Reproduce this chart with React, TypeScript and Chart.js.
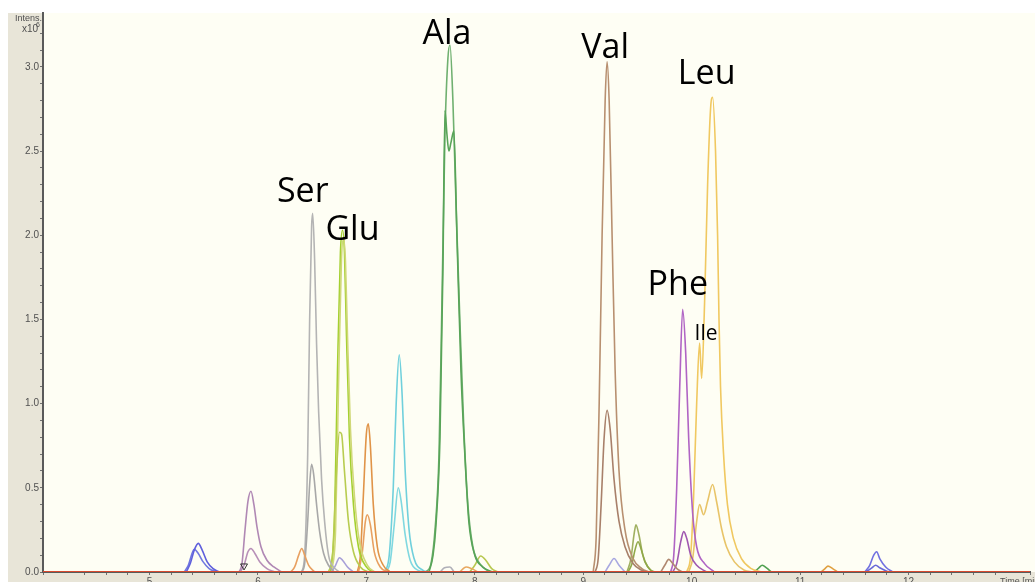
import React, { useEffect, useRef } from "react";
import { Chart, registerables } from "chart.js";
Chart.register(...registerables);

type P = [number, number];

// ---- data: [time (min), intensity (x10^6)] ----
const blueTall: P[] = [[5.339,0],[5.376,0.05],[5.413,0.13],[5.45,0.17],[5.486,0.13],[5.532,0.06],[5.587,0.02],[5.642,0]];
const blueShort: P[] = [[5.321,0],[5.358,0.04],[5.413,0.135],[5.45,0.11],[5.495,0.06],[5.55,0.02],[5.624,0]];
const mauveTall: P[] = [[5.826,0],[5.853,0.05],[5.881,0.25],[5.908,0.42],[5.936,0.48],[5.963,0.4],[5.991,0.27],[6.028,0.15],[6.083,0.07],[6.147,0.03],[6.22,0]];
const mauveShort: P[] = [[5.835,0],[5.872,0.04],[5.908,0.12],[5.936,0.14],[5.972,0.11],[6.018,0.06],[6.083,0.02],[6.156,0]];
const orangeSmall: P[] = [[6.303,0],[6.339,0.03],[6.376,0.1],[6.404,0.14],[6.431,0.1],[6.468,0.04],[6.523,0]];
const serTall: P[] = [[6.404,0],[6.431,0.1],[6.459,0.7],[6.477,1.5],[6.495,2.05],[6.505,2.13],[6.523,1.85],[6.541,1.35],[6.56,0.95],[6.587,0.55],[6.615,0.3],[6.651,0.1],[6.697,0.03],[6.752,0]];
const serShort: P[] = [[6.404,0],[6.431,0.05],[6.459,0.3],[6.477,0.52],[6.495,0.64],[6.514,0.58],[6.541,0.4],[6.569,0.24],[6.606,0.11],[6.651,0.04],[6.706,0]];
const lavSmall: P[] = [[6.679,0],[6.716,0.04],[6.752,0.085],[6.78,0.07],[6.826,0.03],[6.881,0]];
const gluTall: P[] = [[6.67,0],[6.706,0.3],[6.734,1.2],[6.761,1.9],[6.78,2.03],[6.798,1.9],[6.817,1.4],[6.844,0.8],[6.881,0.4],[6.927,0.15],[7.0,0.03],[7.064,0]];
const gluTall2: P[] = [[6.68,0],[6.716,0.25],[6.743,1.1],[6.77,1.85],[6.789,1.98],[6.807,1.85],[6.826,1.4],[6.853,0.85],[6.89,0.45],[6.936,0.18],[7.01,0.04],[7.08,0]];
const gluShort: P[] = [[6.651,0],[6.688,0.1],[6.725,0.6],[6.752,0.83],[6.771,0.82],[6.798,0.6],[6.835,0.3],[6.881,0.12],[6.945,0.03],[7.018,0]];
const orangeTall: P[] = [[6.917,0],[6.945,0.1],[6.972,0.45],[7.0,0.82],[7.018,0.88],[7.037,0.75],[7.064,0.4],[7.101,0.15],[7.156,0.04],[7.22,0]];
const orangeShort: P[] = [[6.927,0],[6.963,0.12],[6.991,0.3],[7.009,0.34],[7.037,0.28],[7.073,0.12],[7.128,0.03],[7.202,0]];
const cyanTall: P[] = [[7.174,0],[7.211,0.1],[7.248,0.5],[7.275,1.0],[7.303,1.29],[7.33,1.05],[7.358,0.6],[7.394,0.25],[7.44,0.08],[7.523,0.01],[7.569,0]];
const cyanShort: P[] = [[7.183,0],[7.22,0.06],[7.257,0.28],[7.294,0.5],[7.321,0.42],[7.358,0.22],[7.404,0.07],[7.477,0.01],[7.55,0]];
const grayBump: P[] = [[7.68,0],[7.72,0.025],[7.77,0.03],[7.81,0]];
const alaTall: P[] = [[7.55,0],[7.596,0.05],[7.633,0.25],[7.67,0.7],[7.697,1.6],[7.725,2.6],[7.752,3.05],[7.771,3.13],[7.798,2.8],[7.826,2.2],[7.862,1.5],[7.899,0.85],[7.936,0.4],[7.982,0.15],[8.046,0.05],[8.138,0]];
const alaSplit: P[] = [[7.578,0],[7.615,0.1],[7.642,0.28],[7.679,0.8],[7.706,1.8],[7.725,2.74],[7.743,2.6],[7.761,2.5],[7.78,2.55],[7.807,2.62],[7.835,2.0],[7.872,1.2],[7.908,0.7],[7.945,0.3],[8.0,0.1],[8.073,0.03],[8.165,0]];
const orangeBump: P[] = [[7.86,0],[7.92,0.03],[7.97,0.02],[8.03,0]];
const yellowGreenSmall: P[] = [[7.954,0],[8.0,0.04],[8.055,0.095],[8.101,0.07],[8.156,0.02],[8.211,0]];
const valTall: P[] = [[9.092,0],[9.119,0.2],[9.147,1.0],[9.174,2.0],[9.202,2.8],[9.22,3.03],[9.239,2.8],[9.266,2.0],[9.294,1.2],[9.33,0.6],[9.385,0.25],[9.459,0.08],[9.541,0.02],[9.606,0]];
const valShort: P[] = [[9.11,0],[9.138,0.08],[9.165,0.4],[9.193,0.8],[9.22,0.96],[9.248,0.85],[9.284,0.55],[9.33,0.3],[9.385,0.15],[9.459,0.05],[9.541,0.01],[9.587,0]];
const lavSmall2: P[] = [[9.202,0],[9.239,0.04],[9.284,0.08],[9.33,0.04],[9.385,0]];
const oliveTall: P[] = [[9.404,0],[9.44,0.08],[9.468,0.22],[9.486,0.28],[9.514,0.22],[9.55,0.1],[9.596,0.03],[9.642,0]];
const oliveShort: P[] = [[9.413,0],[9.45,0.05],[9.477,0.13],[9.505,0.18],[9.532,0.14],[9.569,0.06],[9.624,0.01],[9.661,0]];
const brownSmall: P[] = [[9.716,0],[9.752,0.04],[9.789,0.075],[9.826,0.05],[9.872,0.015],[9.917,0]];
const pheTall: P[] = [[9.807,0],[9.835,0.1],[9.862,0.5],[9.89,1.1],[9.917,1.56],[9.945,1.3],[9.972,0.8],[10.009,0.35],[10.046,0.15],[10.119,0.05],[10.211,0]];
const pheShort: P[] = [[9.826,0],[9.862,0.05],[9.899,0.18],[9.927,0.24],[9.954,0.2],[9.991,0.1],[10.046,0.04],[10.138,0]];
const leuTall: P[] = [[9.954,0],[9.991,0.1],[10.018,0.45],[10.046,1.0],[10.073,1.36],[10.092,1.15],[10.119,1.6],[10.147,2.3],[10.174,2.75],[10.193,2.82],[10.22,2.5],[10.239,2.0],[10.252,1.5],[10.266,1.1],[10.294,0.7],[10.33,0.4],[10.385,0.2],[10.459,0.08],[10.55,0.02],[10.642,0]];
const leuShort: P[] = [[9.972,0],[10.009,0.08],[10.046,0.3],[10.073,0.4],[10.11,0.34],[10.147,0.42],[10.193,0.52],[10.229,0.42],[10.275,0.26],[10.321,0.15],[10.394,0.06],[10.486,0.01],[10.56,0]];
const greenSmall: P[] = [[10.578,0],[10.62,0.025],[10.651,0.04],[10.69,0.025],[10.734,0]];
const orangeSmall2: P[] = [[11.193,0],[11.23,0.02],[11.257,0.035],[11.3,0.02],[11.349,0]];
const blueTall2: P[] = [[11.596,0],[11.642,0.04],[11.679,0.1],[11.706,0.12],[11.734,0.08],[11.789,0.03],[11.853,0]];
const blueShort2: P[] = [[11.606,0],[11.661,0.025],[11.697,0.04],[11.734,0.025],[11.817,0]];
const baseline: P[] = [[4.018,0],[13.12,0]];
const marker: P[] = [[5.872,0.036]];

// ---- peak labels ----
const peakNames = ["Ser", "Glu", "Ala", "Val", "Phe", "Ile", "Leu"];
const peakTimes = [6.413, 6.872, 7.743, 9.202, 9.872, 10.133, 10.138];
const peakLevels = [2.198, 1.972, 3.137, 3.054, 1.646, 1.378, 2.899];
const peakBig = [true, true, true, true, true, false, true];

// ---- axes ----
const xMin = 4.018, xMax = 13.12;
const yMin = 0, yMax = 3.32;

const traces: { pts: P[]; color: string; w?: number }[] = [
  { pts: blueTall, color: "#6060dc" },
  { pts: blueShort, color: "#7078e0" },
  { pts: mauveTall, color: "#b088b4" },
  { pts: mauveShort, color: "#b890b8" },
  { pts: orangeSmall, color: "#e8a060" },
  { pts: serShort, color: "#a8a8a8" },
  { pts: serTall, color: "#b4b4b4" },
  { pts: lavSmall, color: "#a8a0d8" },
  { pts: gluShort, color: "#b8cc50" },
  { pts: gluTall2, color: "#d0d878" },
  { pts: gluTall, color: "#a4d030" },
  { pts: orangeShort, color: "#e8a060" },
  { pts: orangeTall, color: "#e09448" },
  { pts: cyanShort, color: "#80d8e0" },
  { pts: cyanTall, color: "#70d0dc" },
  { pts: grayBump, color: "#b0b0b8" },
  { pts: alaSplit, color: "#58a458" },
  { pts: alaTall, color: "#70b070" },
  { pts: orangeBump, color: "#e8a860" },
  { pts: yellowGreenSmall, color: "#b8c850" },
  { pts: valShort, color: "#a8806a" },
  { pts: valTall, color: "#b89070" },
  { pts: lavSmall2, color: "#a8a8e0" },
  { pts: oliveShort, color: "#90a848" },
  { pts: oliveTall, color: "#a0b060" },
  { pts: brownSmall, color: "#b08870" },
  { pts: pheShort, color: "#a058b0" },
  { pts: pheTall, color: "#b064c4" },
  { pts: leuShort, color: "#e8c468" },
  { pts: leuTall, color: "#f0c860" },
  { pts: greenSmall, color: "#50a050" },
  { pts: orangeSmall2, color: "#e0a040" },
  { pts: blueShort2, color: "#6868d8" },
  { pts: blueTall2, color: "#7070e0" },
];

const bgPlugin = {
  id: "bgPlugin",
  beforeDraw(chart: any) {
    const { ctx, chartArea: a, width, height } = chart;
    ctx.save();
    ctx.fillStyle = "#ffffff";
    ctx.fillRect(0, 0, width, height);
    ctx.fillStyle = "#e8e5d8";
    ctx.fillRect(8, 13, width - 8, height - 13);
    ctx.fillStyle = "#fefef4";
    ctx.fillRect(a.left, a.top, width - a.left, a.bottom - a.top);
    ctx.restore();
  },
  afterDraw(chart: any) {
    const { ctx } = chart;
    const xs = chart.scales.x, ys = chart.scales.y;
    ctx.save();
    ctx.fillStyle = "#505050";
    ctx.font = "9px 'Liberation Sans', Arial, sans-serif";
    ctx.textBaseline = "alphabetic";
    ctx.textAlign = "left";
    ctx.fillText("Intens.", 15, 21);
    ctx.font = "10px 'Liberation Sans', Arial, sans-serif";
    ctx.fillText("x10", 22, 32);
    ctx.font = "7px 'Liberation Sans', Arial, sans-serif";
    ctx.fillText("6", 36, 27);
    ctx.font = "9px 'Liberation Sans', Arial, sans-serif";
    ctx.textBaseline = "top";
    ctx.fillText("Time [min]", 1000, 577);
    ctx.fillStyle = "#000000";
    ctx.textAlign = "center";
    ctx.textBaseline = "alphabetic";
    peakNames.forEach((n, i) => {
      ctx.font = peakBig[i] ? "34px 'Open Sans', sans-serif" : "21px 'Open Sans', sans-serif";
      ctx.fillText(n, xs.getPixelForValue(peakTimes[i]), ys.getPixelForValue(peakLevels[i]));
    });
    ctx.restore();
  },
};

const isInt = (v: number) => Math.abs(v - Math.round(v)) < 1e-6;

export default function App() {
  const ref = useRef<HTMLCanvasElement | null>(null);
  useEffect(() => {
    document.body.style.margin = "0";
    document.body.style.overflow = "hidden";
    const canvas = ref.current;
    if (!canvas) return;
    const datasets: any[] = [
      {
        type: "line",
        data: baseline.map(([x, y]) => ({ x, y })),
        borderColor: "#d84a30",
        borderWidth: 2,
        pointRadius: 0,
      },
      {
        type: "line",
        data: baseline.map(([x, y]) => ({ x, y })),
        borderColor: "#9050c0",
        borderWidth: 2,
        borderDash: [7, 23],
        pointRadius: 0,
      },
      {
        type: "line",
        data: baseline.map(([x, y]) => ({ x, y })),
        borderColor: "#6a9a40",
        borderWidth: 2,
        borderDash: [5, 31],
        borderDashOffset: 12,
        pointRadius: 0,
      },
      {
        type: "scatter",
        data: marker.map(([x, y]) => ({ x, y })),
        pointStyle: "triangle",
        rotation: 180,
        radius: 4,
        borderColor: "#303030",
        backgroundColor: "rgba(0,0,0,0)",
        borderWidth: 1,
      },
      ...traces.map((t) => ({
        type: "line",
        data: t.pts.map(([x, y]) => ({ x, y })),
        borderColor: t.color,
        borderWidth: t.w ?? 1.6,
        pointRadius: 0,
        fill: false,
        cubicInterpolationMode: "monotone",
      })),
    ];
    const chart = new Chart(canvas, {
      type: "line",
      data: { datasets },
      options: {
        animation: false,
        responsive: false,
        devicePixelRatio: 1,
        layout: { padding: { left: 8, top: 13, right: 0, bottom: 0 } },
        plugins: { legend: { display: false }, tooltip: { enabled: false } },
        scales: {
          x: {
            type: "linear",
            min: xMin,
            max: xMax,
            afterFit: (s: any) => {
              s.height = 10;
              s.paddingLeft = 0;
              s.paddingRight = 0;
            },
            border: { display: true, color: "#5a5a5a", width: 2 },
            grid: {
              drawOnChartArea: false,
              drawTicks: true,
              tickLength: 3,
              color: "#707070",
            },
            ticks: {
              stepSize: 0.2,
              autoSkip: false,
              maxRotation: 0,
              padding: 1,
              color: "#505050",
              font: { size: 10, family: "'Liberation Sans', Arial, sans-serif" },
              callback: (v: any) => {
                const n = Number(v);
                return isInt(n) && n >= 5 && n <= 12 ? String(Math.round(n)) : "";
              },
            },
          },
          y: {
            type: "linear",
            min: yMin,
            max: yMax,
            afterFit: (s: any) => {
              s.width = 35;
            },
            border: { display: true, color: "#5a5a5a", width: 2 },
            grid: {
              drawOnChartArea: false,
              drawTicks: true,
              tickLength: 3,
              color: (c: any) => (c.tick && c.tick.value > 3.25 ? "rgba(0,0,0,0)" : "#707070"),
            },
            ticks: {
              stepSize: 0.1,
              autoSkip: false,
              padding: 1,
              color: "#505050",
              font: { size: 10, family: "'Liberation Sans', Arial, sans-serif" },
              callback: (v: any) => {
                const n = Number(v);
                return isInt(n * 2) && n <= 3.01 ? n.toFixed(1) : "";
              },
            },
          },
        },
      },
      plugins: [bgPlugin],
    } as any);
    return () => chart.destroy();
  }, []);
  return (
    <div style={{ position: "fixed", left: 0, top: 0, width: 1035, height: 582 }}>
      <canvas ref={ref} width={1035} height={582} style={{ display: "block", width: 1035, height: 582 }} />
    </div>
  );
}
